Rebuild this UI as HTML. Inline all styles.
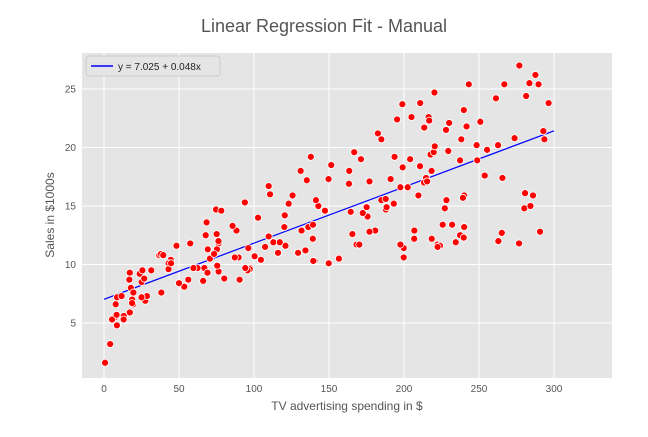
<!DOCTYPE html>
<html><head><meta charset="utf-8"><style>
html,body{margin:0;padding:0;background:#fff;}
svg text{font-family:"Liberation Sans","DejaVu Sans",sans-serif;}
</style></head><body>
<svg id="chart" width="648" height="432" xmlns="http://www.w3.org/2000/svg">
<text x="324" y="32" text-anchor="middle" font-size="18" fill="#555">Linear Regression Fit - Manual</text>
<rect x="82" y="53" width="530" height="325" fill="#e5e5e5"/>
<g id="grid"></g><g id="ticks"></g><g id="line"></g><g id="points"></g>
<text x="347" y="410" text-anchor="middle" font-size="12" fill="#555">TV advertising spending in $</text>
<text transform="translate(54,215) rotate(-90)" text-anchor="middle" font-size="12" fill="#555">Sales in $1000s</text>
<g>
<rect x="86" y="56" width="134" height="20" rx="3" fill="#e5e5e5" stroke="#ccc"/>
<line x1="91" y1="66" x2="113" y2="66" stroke="#0000ff" stroke-width="1.5"/>
<text x="118" y="70" font-size="10" fill="#222">y = 7.025 + 0.048x</text>
</g>
</svg>
<script>
const tv=[230.1,44.5,17.2,151.5,180.8,8.7,57.5,120.2,8.6,199.8,66.1,214.7,23.8,97.5,204.1,195.4,67.8,281.4,69.2,147.3,218.4,237.4,13.2,228.3,62.3,262.9,142.9,240.1,248.8,70.6,292.9,112.9,97.2,265.6,95.7,290.7,266.9,74.7,43.1,228,202.5,177,293.6,206.9,25.1,175.1,89.7,239.9,227.2,66.9,199.8,100.4,216.4,182.6,262.7,198.9,7.3,136.2,210.8,210.7,53.5,261.3,239.3,102.7,131.1,69,31.5,139.3,237.4,216.8,199.1,109.8,26.8,129.4,213.4,16.9,27.5,120.5,5.4,116,76.4,239.8,75.3,68.4,213.5,193.2,76.3,110.7,88.3,109.8,134.3,28.6,217.7,250.9,107.4,163.3,197.6,184.9,289.7,135.2,222.4,296.4,280.2,187.9,238.2,137.9,25,90.4,13.1,255.4,225.8,241.7,175.7,209.6,78.2,75.1,139.2,76.4,125.7,19.4,141.3,18.8,224,123.1,229.5,87.2,7.8,80.2,220.3,59.6,0.7,265.2,8.4,219.8,36.9,48.3,25.6,273.7,43,184.9,73.4,193.7,220.5,104.6,96.2,140.3,240.1,243.2,38,44.7,280.7,121,197.6,171.3,187.8,4.1,93.9,149.8,11.7,131.7,172.5,85.7,188.4,163.5,117.2,234.5,17.9,206.8,215.4,284.3,50,164.5,19.6,168.4,222.4,276.9,248.4,170.2,276.7,165.6,156.6,218.5,56.2,287.6,253.8,205,139.5,191.1,286,18.7,39.5,75.5,17.2,166.8,149.7,38.2,94.2,177,283.6,232.1];
const sales=[22.1,10.4,9.3,18.5,12.9,7.2,11.8,13.2,4.8,10.6,8.6,17.4,9.2,9.7,19,22.4,12.5,24.4,11.3,14.6,18,12.5,5.6,15.5,9.7,12,15,15.9,18.9,10.5,21.4,11.9,9.6,17.4,9.5,12.8,25.4,14.7,10.1,21.5,16.6,17.1,20.7,12.9,8.5,14.9,10.6,23.2,14.8,9.7,11.4,10.7,22.6,21.2,20.2,23.7,5.5,13.2,23.8,18.4,8.1,24.2,15.7,14,18,9.3,9.5,13.4,18.9,22.3,18.3,12.4,8.8,11,17,8.7,6.9,14.2,5.3,11,11.8,12.3,11.3,13.6,21.7,15.2,12,16,12.9,16.7,11.2,7.3,19.4,22.2,11.5,16.9,11.7,15.5,25.4,17.2,11.7,23.8,14.8,14.7,20.7,19.2,7.2,8.7,5.3,19.8,13.4,21.8,14.1,15.9,14.6,12.6,12.2,9.4,15.9,6.6,15.5,7,11.6,15.2,19.7,10.6,6.6,8.8,24.7,9.7,1.6,12.7,5.7,19.6,10.8,11.6,9.5,20.8,9.6,20.7,10.9,19.2,20.1,10.4,11.4,10.3,13.2,25.4,10.9,10.1,16.1,11.6,16.6,19,15.6,3.2,15.3,10.1,7.3,12.9,14.4,13.3,14.9,18,11.9,11.9,8,12.2,17.1,15,8.4,14.5,7.6,11.7,11.5,27,20.2,11.7,11.8,12.6,10.5,12.2,8.7,26.2,17.6,22.6,10.3,17.3,15.9,6.7,10.8,9.9,5.9,19.6,17.3,7.6,9.7,12.8,25.5,13.4];
const xTicks=[0,50,100,150,200,250,300];
const yTicks=[5,10,15,20,25];
const intercept=7.025, slope=0.048;
const lineRange=[0,300];
const NS="http://www.w3.org/2000/svg";
const X=v=>104+v*1.5, Y=v=>381.5-v*11.7;
function mk(tag,attrs,parent){const e=document.createElementNS(NS,tag);for(const k in attrs)e.setAttribute(k,attrs[k]);document.getElementById(parent).appendChild(e);return e;}
xTicks.forEach(t=>{
 const g=mk('line',{x1:X(t),x2:X(t),y1:53,y2:378,stroke:'#fff','stroke-width':1},'grid');
 
 
 const tx=mk('text',{x:X(t),y:392,'text-anchor':'middle','font-size':10,fill:'#555'},'ticks');
 tx.textContent=t;
 
 
});
yTicks.forEach(t=>{
 const g=mk('line',{x1:82,x2:612,y1:Y(t),y2:Y(t),stroke:'#fff','stroke-width':1},'grid');
 
 
 const tx=mk('text',{x:76,y:Y(t)+3.5,'text-anchor':'end','font-size':10,fill:'#555'},'ticks');
 tx.textContent=t;
 
 
});
const ln=mk('line',{x1:X(lineRange[0]),y1:Y(intercept+slope*lineRange[0]),x2:X(lineRange[1]),y2:Y(intercept+slope*lineRange[1]),stroke:'#0000ff','stroke-width':1.2},'line');


tv.forEach((v,i)=>{
 const c=mk('circle',{cx:X(v),cy:Y(sales[i]),r:3.5,fill:'#ff0000',stroke:'#fff','stroke-width':0.8},'points');
 
 
});
</script>
</body></html>
